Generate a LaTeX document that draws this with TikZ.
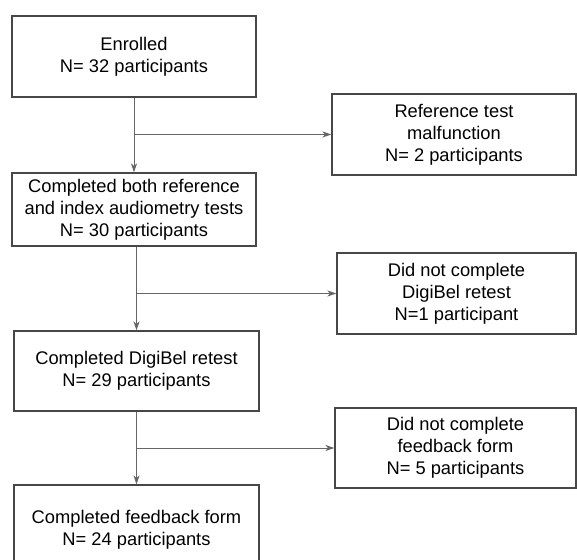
\documentclass[tikz,border=0pt]{standalone}
\usepackage{fontspec}
\setmainfont{Liberation Sans}
\usetikzlibrary{arrows.meta,calc}
\begin{document}
\begin{tikzpicture}[x=1pt,y=1pt,
  box/.style={draw=black!72,line width=1.1pt,fill=white,align=center,inner sep=0pt,
    font=\fontsize{18.3}{22}\selectfont},
  conn/.style={draw=black!60,line width=1pt},
  arr/.style={conn,-{Stealth[length=9pt,width=6pt,inset=2.5pt]}}]
\useasboundingbox (0,0) rectangle (577,559);
\clip (0,0) rectangle (577,559);
\node[box,minimum width=244pt,minimum height=81pt] (b1) at (134,502.5) {Enrolled\\N= 32 participants};
\node[box,minimum width=244pt,minimum height=81pt] (b2) at (454,424.5) {Reference test\\malfunction\\N= 2 participants};
\node[box,minimum width=244pt,minimum height=73pt] (b3) at (134,349.5) {Completed both reference\\and index audiometry tests\\N= 30 participants};
\node[box,minimum width=239pt,minimum height=81pt] (b4) at (456.5,265.5) {Did not complete\\DigiBel retest\\N=1 participant};
\node[box,minimum width=245pt,minimum height=80pt] (b5) at (136.5,188) {Completed DigiBel retest\\N= 29 participants};
\node[box,minimum width=241pt,minimum height=80pt] (b6) at (455.5,111) {Did not complete\\feedback form\\N= 5 participants};
\node[box,minimum width=245pt,minimum height=90pt] (b7) at (136.5,29) {Completed feedback form\\N= 24 participants};
\coordinate (j1) at (b1.south |- b2.west);
\coordinate (j2) at (b5.north |- b4.west);
\coordinate (j3) at (b5.south |- b6.west);
\draw[arr] (b1.south) -- (b1.south |- b3.north);
\draw[arr] (j1) -- (b2.west);
\draw[arr] (b5.north |- b3.south) -- (b5.north);
\draw[arr] (j2) -- (b4.west);
\draw[arr] (b5.south) -- (b7.north);
\draw[arr] (j3) -- (b6.west);
\end{tikzpicture}
\end{document}
